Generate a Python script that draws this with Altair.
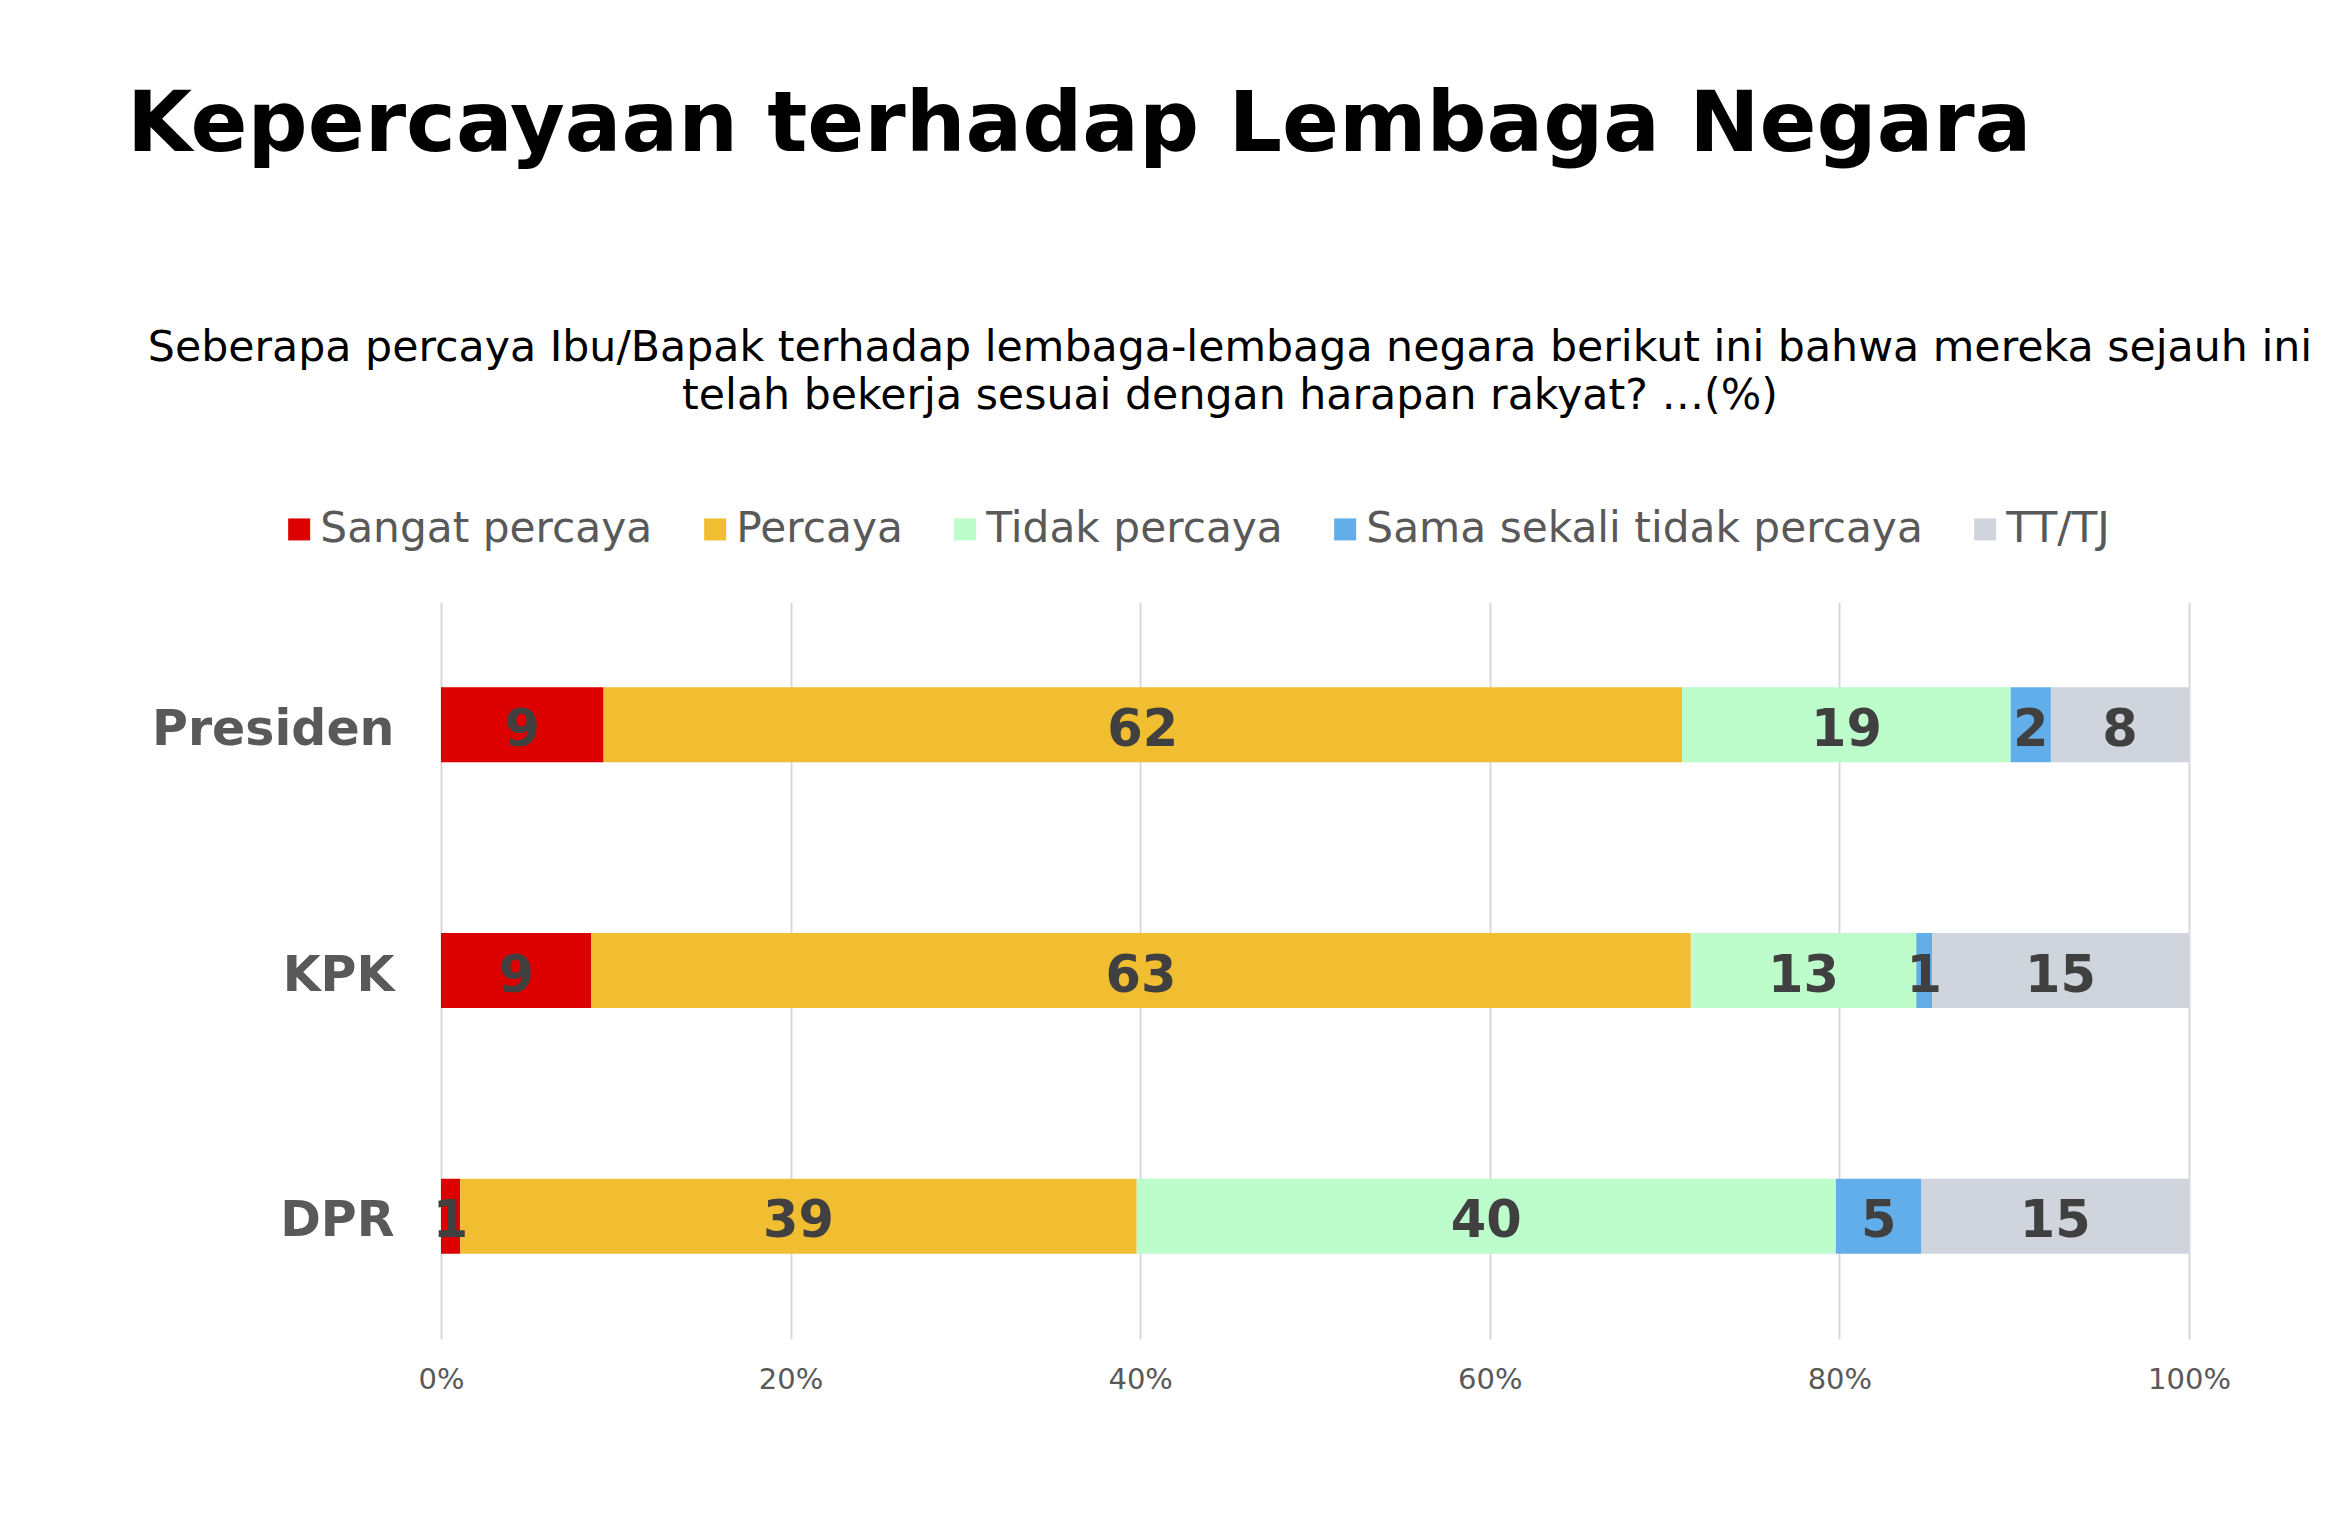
import altair as alt
import pandas as pd

institutions = ["Presiden", "KPK", "DPR"]
categories = ["Sangat percaya", "Percaya", "Tidak percaya", "Sama sekali tidak percaya", "TT/TJ"]
colors = ["#DC0000", "#F0BE30", "#BCFDCB", "#61AEEA", "#D0D4DC"]

presiden_values = [9.3, 61.7, 18.8, 2.3, 7.9]
kpk_values = [8.6, 62.9, 12.9, 0.9, 14.7]
dpr_values = [1.1, 38.7, 40.0, 4.9, 15.3]

presiden_labels = ["9", "62", "19", "2", "8"]
kpk_labels = ["9", "63", "13", "1", "15"]
dpr_labels = ["1", "39", "40", "5", "15"]

title_text = "Kepercayaan terhadap Lembaga Negara"
subtitle_lines = [
    "Seberapa percaya Ibu/Bapak terhadap lembaga-lembaga negara berikut ini bahwa mereka sejauh ini",
    "telah bekerja sesuai dengan harapan rakyat? …(%)",
]
x_ticks = [0, 0.2, 0.4, 0.6, 0.8, 1.0]

rows = []
for inst, vals, labs in [("Presiden", presiden_values, presiden_labels),
                         ("KPK", kpk_values, kpk_labels),
                         ("DPR", dpr_values, dpr_labels)]:
    for i, (cat, v, l) in enumerate(zip(categories, vals, labs)):
        rows.append({"inst": inst, "cat": cat, "order": i, "value": v, "label": l})
df = pd.DataFrame(rows)

FONT = "DejaVu Sans"

base = alt.Chart(df).transform_stack(
    stack="value", groupby=["inst"], as_=["x0", "x1"], offset="normalize",
    sort=[alt.SortField("order", order="ascending")]
).transform_calculate(mid="(datum.x0 + datum.x1) / 2")

y_enc = alt.Y("inst:N", sort=institutions, title=None,
              scale=alt.Scale(paddingInner=0, paddingOuter=0),
              axis=alt.Axis(labelFont=FONT, labelFontSize=49, labelFontWeight="bold",
                            labelColor="#595959", labelPadding=47, ticks=False,
                            domain=False, labelLimit=600, grid=False, labelOffset=5))

bars = base.mark_bar(size=75).encode(
    x=alt.X("x0:Q", title=None,
            scale=alt.Scale(domain=[0, 1], nice=False),
            axis=alt.Axis(values=x_ticks, format=".0%", labelFont=FONT, labelFontSize=29,
                          labelColor="#595959", labelPadding=26, ticks=False, domain=False,
                          labelFlush=False,
                          grid=True, gridColor="#D9D9D9", gridWidth=2)),
    x2="x1:Q",
    y=y_enc,
    color=alt.Color("cat:N", sort=categories,
                    scale=alt.Scale(domain=categories, range=colors),
                    legend=alt.Legend(title=None, orient="none", direction="horizontal",
                                      legendX=-163, legendY=-94,
                                      symbolType="square", symbolSize=484,
                                      symbolStrokeWidth=0, labelFont=FONT,
                                      labelFontSize=42.3, labelColor="#595959",
                                      labelLimit=1000, columnPadding=41, labelOffset=0,
                                      columns=5)),
    order=alt.Order("order:Q"),
)

labels = base.mark_text(font=FONT, fontSize=51, fontWeight="bold", color="#404040",
                        baseline="middle", align="center", dy=6).encode(
    x=alt.X("mid:Q"),
    y=alt.Y("inst:N", sort=institutions),
    text="label:N",
)

subtitle = alt.Chart(pd.DataFrame({"k": [0]})).mark_text(
    text=subtitle_lines, font=FONT, fontSize=42.7, color="#000000",
    align="center", baseline="alphabetic", lineHeight=48
).encode(x=alt.value(789), y=alt.value(-241))

chart = alt.layer(bars, labels, subtitle).properties(
    width=1748, height=737,
    title=alt.Title(title_text, anchor="start", frame="group", font=FONT, fontSize=84,
                    fontWeight="bold", color="#000000", dx=-314, offset=158),
    autosize=alt.AutoSizeParams(type="none"),
    padding={"left": 433, "top": 594, "right": 151, "bottom": 187},
).configure(background="white").configure_view(stroke=None)

chart.save("out.html", embed_options={"renderer": "svg", "actions": False})
